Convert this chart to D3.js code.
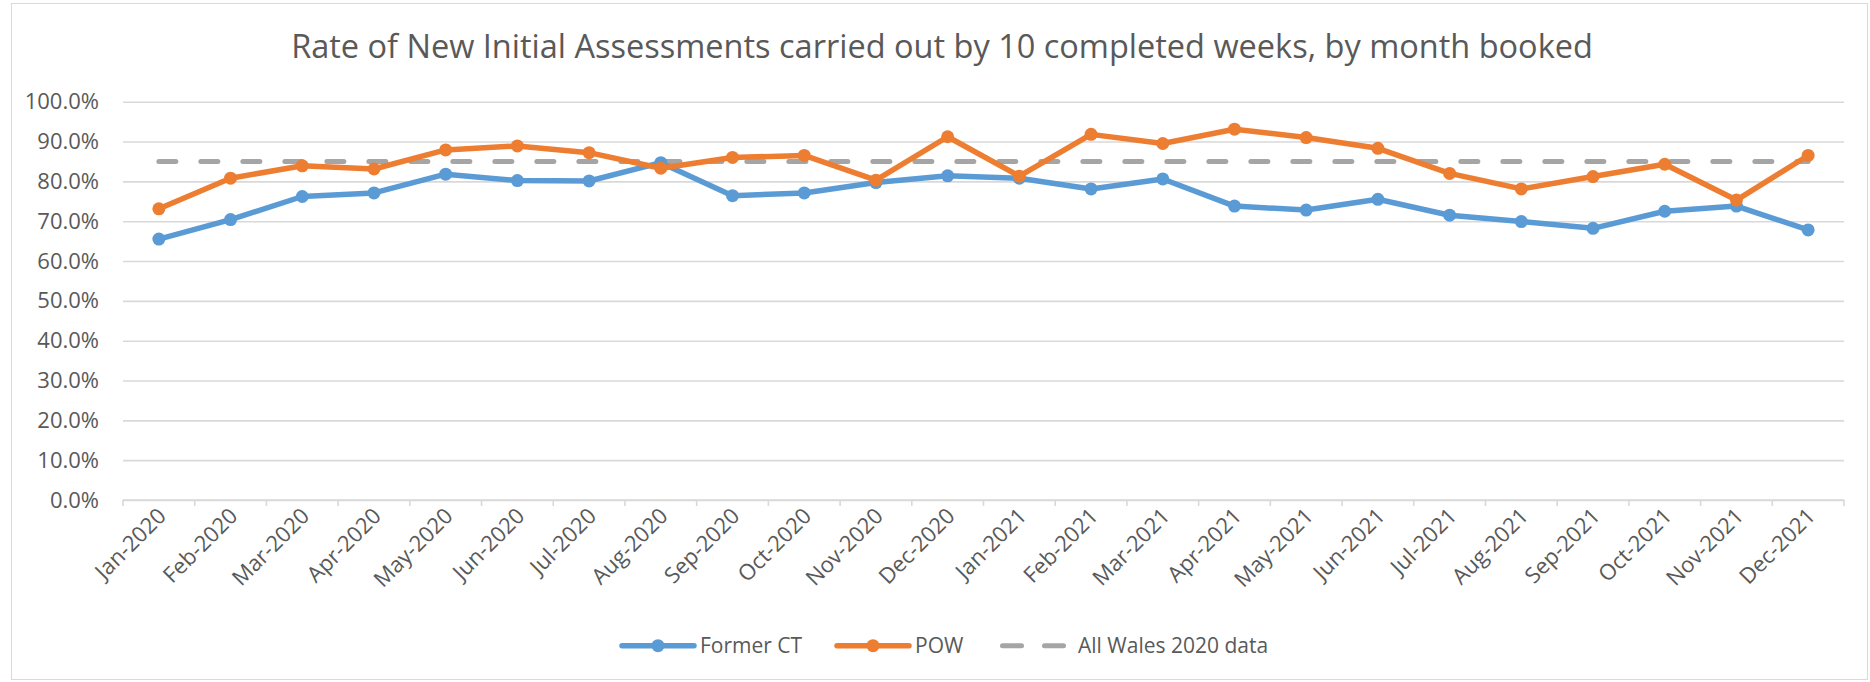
<!DOCTYPE html>
<html>
<head>
<meta charset="utf-8">
<script src="https://cdn.jsdelivr.net/npm/d3@7"></script>
<style>
    body { margin: 0; background: #fff; }
    text { font-family: 'Open Sans', sans-serif; fill: #595959; }
</style>
</head>
<body>
<div id="chart"></div>
<script>
let width = 1870
let height = 682
let margin = {top: 101.7, right: 26, bottom: 182, left: 123}

const months = ['Jan-2020','Feb-2020','Mar-2020','Apr-2020','May-2020','Jun-2020','Jul-2020','Aug-2020',
    'Sep-2020','Oct-2020','Nov-2020','Dec-2020','Jan-2021','Feb-2021','Mar-2021','Apr-2021','May-2021',
    'Jun-2021','Jul-2021','Aug-2021','Sep-2021','Oct-2021','Nov-2021','Dec-2021']

const formerCT = [65.5, 70.4, 76.2, 77.1, 81.8, 80.2, 80.1, 84.7, 76.4, 77.1, 79.7, 81.4,
    80.8, 78.1, 80.6, 73.8, 72.8, 75.5, 71.5, 69.9, 68.2, 72.5, 73.8, 67.8]

const pow = [73.1, 80.8, 83.9, 83.1, 87.9, 88.9, 87.2, 83.3, 86.0, 86.5, 80.3, 91.2,
    81.3, 91.8, 89.5, 93.1, 91.0, 88.3, 82.0, 78.1, 81.2, 84.3, 75.3, 86.5]

const allWales = [85, 85, 85, 85, 85, 85, 85, 85, 85, 85, 85, 85,
    85, 85, 85, 85, 85, 85, 85, 85, 85, 85, 85, 85]

const yTicks = [0, 10, 20, 30, 40, 50, 60, 70, 80, 90, 100]

let innerW = width - margin.left - margin.right
let innerH = height - margin.top - margin.bottom

let svg = d3.select('#chart')
            .append('svg')
            .attr('width', width)
            .attr('height', height)

// outer chart border
svg.append('rect')
    .attr('x', 11.5)
    .attr('y', 3.5)
    .attr('width', width - 14)
    .attr('height', height - 6)
    .attr('fill', 'none')
    .attr('stroke', '#d9d9d9')
    .attr('stroke-width', 1)

svg.append('text')
    .attr('x', 942)
    .attr('y', 58)
    .attr('text-anchor', 'middle')
    .style('font-size', '32.5px')
    .text('Rate of New Initial Assessments carried out by 10 completed weeks, by month booked')

let xScale = d3.scaleBand()
            .domain(months)
            .range([0, innerW])

let yScale = d3.scaleLinear()
            .domain([0, 100])
            .range([innerH, 0])

let grp = svg.append('g')
            .attr('transform', 'translate(' + margin.left + ',' + margin.top + ')')

// gridlines + y labels
grp.append('g')
    .call(d3.axisLeft(yScale)
        .tickValues(yTicks)
        .tickSize(-innerW)
        .tickPadding(24)
        .tickFormat(d => d.toFixed(1) + '%'))
    .call(g => g.select('.domain').remove())
    .call(g => g.selectAll('line').attr('stroke', '#d9d9d9').attr('stroke-width', 1.6))
    .call(g => g.selectAll('text').style('font-size', '22px').attr('fill', '#595959'))

// x axis with ticks at category boundaries
let xAxis = grp.append('g')
    .attr('transform', 'translate(0,' + innerH + ')')

xAxis.append('line')
    .attr('x1', 0)
    .attr('x2', innerW)
    .attr('stroke', '#d9d9d9')
    .attr('stroke-width', 1.6)

xAxis.selectAll('.xtick')
    .data(months.concat(['end']))
    .enter()
    .append('line')
    .attr('class', 'xtick')
    .attr('x1', (d, i) => i < months.length ? xScale(d) : innerW)
    .attr('x2', (d, i) => i < months.length ? xScale(d) : innerW)
    .attr('y1', 0)
    .attr('y2', 6)
    .attr('stroke', '#d9d9d9')
    .attr('stroke-width', 1.6)

xAxis.selectAll('.xlabel')
    .data(months)
    .enter()
    .append('text')
    .attr('class', 'xlabel')
    .attr('text-anchor', 'end')
    .attr('transform', d => 'translate(' + (xScale(d) + xScale.bandwidth() / 2 + 3) + ',12) rotate(-45)')
    .attr('dy', '0.35em')
    .style('font-size', '22px')
    .text(d => d)

let cx = (d, i) => xScale(months[i]) + xScale.bandwidth() / 2

let line = d3.line()
            .x((d, i) => cx(d, i))
            .y(d => yScale(d))

// All Wales dashed reference
grp.append('path')
    .datum(allWales)
    .attr('d', line)
    .attr('fill', 'none')
    .attr('stroke', '#a5a5a5')
    .attr('stroke-width', 5)
    .attr('stroke-linecap', 'round')
    .attr('stroke-dasharray', '17,25')

let series = [
    {name: 'Former CT', values: formerCT, color: '#5b9bd5'},
    {name: 'POW', values: pow, color: '#ed7d31'}
]

series.forEach(s => {
    grp.append('path')
        .datum(s.values)
        .attr('d', line)
        .attr('fill', 'none')
        .attr('stroke', s.color)
        .attr('stroke-width', 5.5)
        .attr('stroke-linejoin', 'round')

    grp.selectAll('.pt-' + s.name.replace(' ', ''))
        .data(s.values)
        .enter()
        .append('circle')
        .attr('cx', (d, i) => cx(d, i))
        .attr('cy', d => yScale(d))
        .attr('r', 6.5)
        .attr('fill', s.color)
})

// legend
let legend = svg.append('g')
            .attr('transform', 'translate(0,645.7)')

let legendItems = [
    {name: 'Former CT', color: '#5b9bd5', x: 622, dashed: false},
    {name: 'POW', color: '#ed7d31', x: 837, dashed: false},
    {name: 'All Wales 2020 data', color: '#a5a5a5', x: 1000, dashed: true}
]

legendItems.forEach(l => {
    let item = legend.append('g').attr('transform', 'translate(' + l.x + ',0)')
    if (l.dashed) {
        item.append('line')
            .attr('x1', 2.5)
            .attr('x2', 66)
            .attr('stroke', l.color)
            .attr('stroke-width', 5)
            .attr('stroke-linecap', 'round')
            .attr('stroke-dasharray', '19,23')
        item.append('text')
            .attr('x', 78)
            .attr('dy', '0.35em')
            .style('font-size', '21px')
            .text(l.name)
    } else {
        item.append('line')
            .attr('x1', 0)
            .attr('x2', 72)
            .attr('stroke', l.color)
            .attr('stroke-width', 5.5)
            .attr('stroke-linecap', 'round')
        item.append('circle')
            .attr('cx', 36)
            .attr('r', 6.5)
            .attr('fill', l.color)
        item.append('text')
            .attr('x', 78)
            .attr('dy', '0.35em')
            .style('font-size', '21px')
            .text(l.name)
    }
})
</script>
</body>
</html>
